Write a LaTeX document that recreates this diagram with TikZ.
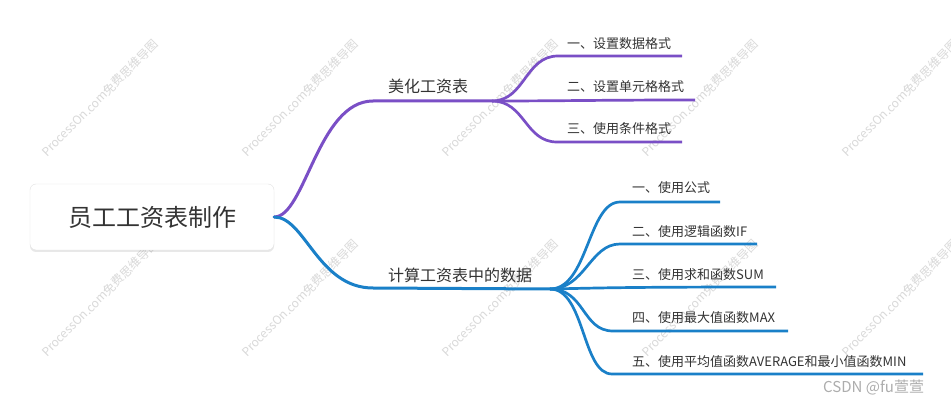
\documentclass[tikz,border=0pt]{standalone}
\usepackage{fontspec}
\setmainfont{Noto Sans CJK SC}
\usetikzlibrary{shadows}
\definecolor{purp}{HTML}{7A4FC6}
\definecolor{blu}{HTML}{1A80C8}
\definecolor{txt}{HTML}{333333}
\definecolor{wmark}{HTML}{D9D9D9}
\definecolor{boxline}{HTML}{E2E2E2}
\begin{document}
\begin{tikzpicture}[x=1pt,y=-1pt,
  pmain/.style={draw=purp,line width=3pt,line cap=round},
  bmain/.style={draw=blu,line width=3pt,line cap=round},
  psub/.style={draw=purp,line width=2.7pt},
  bsub/.style={draw=blu,line width=2.7pt},
  rootbox/.style={draw=boxline,fill=white,rounded corners=6pt,minimum width=244pt,minimum height=66pt,
    drop shadow={opacity=0.18,shadow xshift=0pt,shadow yshift=-2pt},
    text=txt,font=\fontsize{24}{28}\selectfont},
  mainlabel/.style={anchor=west,inner sep=0pt,text=txt,font=\fontsize{16}{18}\selectfont},
  sublabel/.style={anchor=west,inner sep=0pt,text=txt,font=\fontsize{13}{15}\selectfont},
  wmtext/.style={text=wmark,rotate=45,inner sep=0pt,font=\fontsize{12}{14}\selectfont},
  credit/.style={anchor=west,inner sep=0pt,text=black!32,font=\fontsize{15}{17}\selectfont}]
\useasboundingbox (0,0) rectangle (951,406);
\fill[white] (0,0) rectangle (951,406);
% watermarks
\foreach \wx in {100,300,500,700,900}{
  \foreach \wy in {98,298}{
    \node[wmtext] (wm-\wx-\wy) at (\wx,\wy) {ProcessOn.com免费思维导图};
  }
}
% root
\node[rootbox] (root) at (152,217) {员工工资表制作};
% junctions and ends
\coordinate (pj) at (492,101);
\coordinate (bj) at (550,289);
\coordinate (p1e) at (682,56);
\coordinate (p2e) at (695,100);
\coordinate (p3e) at (682,142);
\coordinate (b1e) at (720,202);
\coordinate (b2e) at (757,244);
\coordinate (b3e) at (776,287);
\coordinate (b4e) at (788,331);
\coordinate (b5e) at (923,374);
% main branches
\draw[pmain] (root.east) .. controls (305,217) and (318,101) .. (373,101) -- (pj);
\draw[bmain] (root.east) .. controls (305,217) and (318,288) .. (373,288) -- (bj);
% purple subs
\draw[psub] (pj) .. controls (525,101) and (525,56) .. (558,56) -- (p1e);
\draw[psub] (pj) .. controls (560,101) and (600,100) .. (p2e);
\draw[psub] (pj) .. controls (525,101) and (525,142) .. (557,142) -- (p3e);
% blue subs
\draw[bsub] (bj) .. controls (588,289) and (588,202) .. (620,202) -- (b1e);
\draw[bsub] (bj) .. controls (585,289) and (590,244) .. (620,244) -- (b2e);
\draw[bsub] (bj) .. controls (600,288) and (620,287) .. (b3e);
\draw[bsub] (bj) .. controls (585,289) and (582,331) .. (613,331) -- (b4e);
\draw[bsub] (bj) .. controls (585,289) and (582,374) .. (612,374) -- (b5e);
% labels
\node[mainlabel] (m1) at (388,86) {美化工资表};
\node[mainlabel] (m2) at (388,275) {计算工资表中的数据};
\node[sublabel] (p1) at (567,44) {一、设置数据格式};
\node[sublabel] (p2) at (567,87) {二、设置单元格格式};
\node[sublabel] (p3) at (567,129) {三、使用条件格式};
\node[sublabel] (b1) at (632,188) {一、使用公式};
\node[sublabel] (b2) at (632,232) {二、使用逻辑函数IF};
\node[sublabel] (b3) at (632,275) {三、使用求和函数SUM};
\node[sublabel] (b4) at (632,318) {四、使用最大值函数MAX};
\node[sublabel] (b5) at (632,362) {五、使用平均值函数AVERAGE和最小值函数MIN};
\node[credit] (csdn) at (823,387) {CSDN @fu萱萱};
\end{tikzpicture}
\end{document}
